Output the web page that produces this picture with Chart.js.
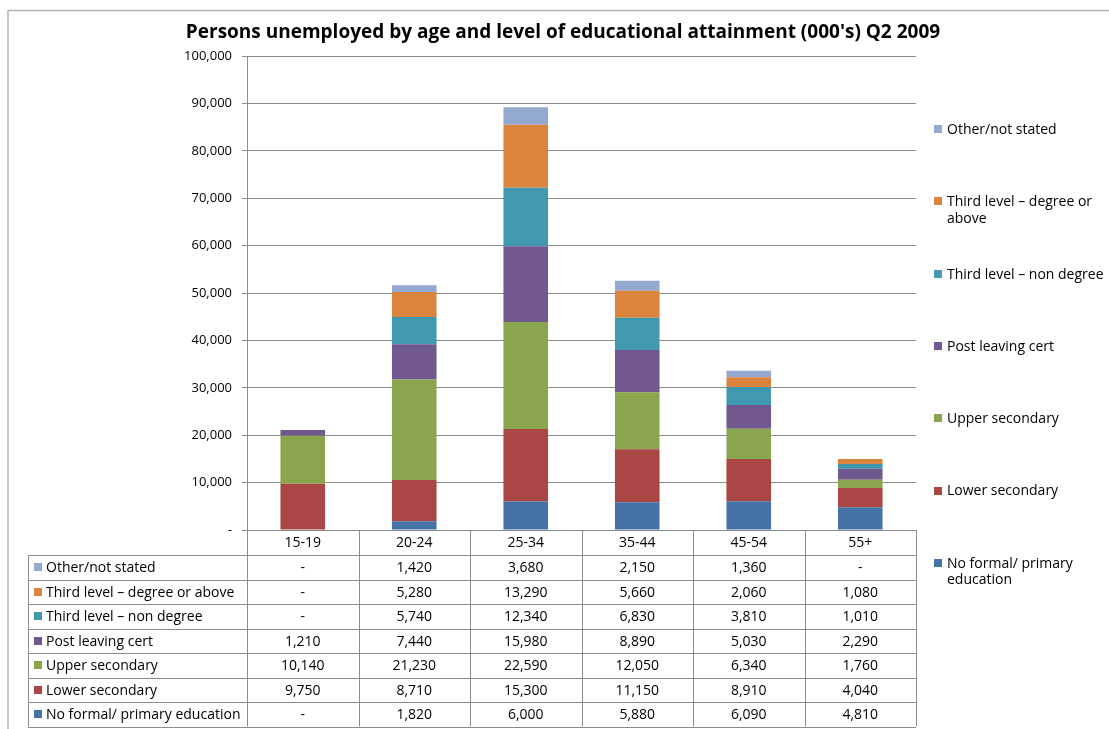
<!DOCTYPE html>
<html>
<head>
<meta charset="utf-8">
<script src="https://cdn.jsdelivr.net/npm/chart.js@4/dist/chart.umd.min.js"></script>
<style>
  html, body { margin: 0; padding: 0; background: #ffffff; }
  #wrap { position: relative; width: 1109px; height: 729px; }
</style>
</head>
<body>
<div id="wrap"><canvas id="chart"></canvas></div>
<script>
// ---- data ----
const chartTitle = "Persons unemployed by age and level of educational attainment (000's) Q2 2009";
const ageGroups = ['15-19', '20-24', '25-34', '35-44', '45-54', '55+'];
const seriesNames = [
  'No formal/ primary education',
  'Lower secondary',
  'Upper secondary',
  'Post leaving cert',
  'Third level \u2013 non degree',
  'Third level \u2013 degree or above',
  'Other/not stated'
];
const noFormalPrimary   = [null, 1820, 6000, 5880, 6090, 4810];
const lowerSecondary    = [9750, 8710, 15300, 11150, 8910, 4040];
const upperSecondary    = [10140, 21230, 22590, 12050, 6340, 1760];
const postLeavingCert   = [1210, 7440, 15980, 8890, 5030, 2290];
const thirdNonDegree    = [null, 5740, 12340, 6830, 3810, 1010];
const thirdDegreeAbove  = [null, 5280, 13290, 5660, 2060, 1080];
const otherNotStated    = [null, 1420, 3680, 2150, 1360, null];
const yMin = 0, yMax = 100000, yStep = 10000;

// ---- styling ----
const seriesColors = ['#4572A7', '#AA4643', '#89A54E', '#71588F', '#4198AF', '#DB843D', '#93A9CF'];
const FONT = "'Open Sans', Lato, sans-serif";
const GRID = '#8c8c8c';
const seriesValues = [noFormalPrimary, lowerSecondary, upperSecondary, postLeavingCert,
                      thirdNonDegree, thirdDegreeAbove, otherNotStated];

const fmt = v => (v === null || v === 0) ? '-' : v.toLocaleString('en-US');

// outer chart frame and title
const framePlugin = {
  id: 'frame',
  beforeDraw(chart) {
    const ctx = chart.ctx;
    ctx.save();
    ctx.strokeStyle = '#b4b4b4';
    ctx.lineWidth = 1.5;
    ctx.beginPath();
    ctx.moveTo(8, 729); ctx.lineTo(8, 10.5); ctx.lineTo(1109, 10.5);
    ctx.stroke();
    ctx.fillStyle = '#000';
    ctx.font = 'bold 19px ' + FONT;
    ctx.textAlign = 'center';
    ctx.textBaseline = 'middle';
    ctx.fillText(chartTitle, 563, 33);
    ctx.restore();
  }
};

// data table under the plot area
const tablePlugin = {
  id: 'dataTable',
  afterDraw(chart) {
    const ctx = chart.ctx, xs = chart.scales.x, area = chart.chartArea;
    const n = ageGroups.length;
    const bounds = [area.left];
    for (let i = 1; i < n; i++) bounds.push((xs.getPixelForValue(i - 1) + xs.getPixelForValue(i)) / 2);
    bounds.push(area.right);
    const top = area.bottom, headH = 25, rowH = 24.5, leftX = 28;
    const rows = seriesNames.length;
    const bottom = top + headH + rows * rowH;
    ctx.save();
    ctx.strokeStyle = GRID;
    ctx.lineWidth = 1;
    ctx.beginPath();
    // horizontal lines
    for (let r = 0; r <= rows; r++) {
      const y = Math.round(top + headH + r * rowH) + 0.5;
      ctx.moveTo(leftX, y); ctx.lineTo(area.right, y);
    }
    // vertical lines
    bounds.forEach(x => { const px = Math.round(x) + 0.5; ctx.moveTo(px, top); ctx.lineTo(px, bottom); });
    ctx.moveTo(leftX + 0.5, top + headH); ctx.lineTo(leftX + 0.5, bottom);
    ctx.stroke();

    ctx.fillStyle = '#000';
    ctx.font = '14px ' + FONT;
    ctx.textBaseline = 'middle';
    ctx.textAlign = 'center';
    ageGroups.forEach((g, i) => ctx.fillText(g, xs.getPixelForValue(i), top + headH / 2 + 1));
    for (let r = 0; r < rows; r++) {
      const s = rows - 1 - r;
      const cy = top + headH + r * rowH + rowH / 2;
      ctx.fillStyle = seriesColors[s];
      ctx.fillRect(34, Math.round(cy - 4), 8, 8);
      ctx.fillStyle = '#000';
      ctx.textAlign = 'left';
      ctx.fillText(seriesNames[s], 46, cy + 1);
      ctx.textAlign = 'center';
      seriesValues[s].forEach((v, i) => ctx.fillText(fmt(v), xs.getPixelForValue(i), cy + 1));
    }
    ctx.restore();
  }
};

// legend on the right, wrapped to a fixed width
const sideLegendPlugin = {
  id: 'sideLegend',
  afterDraw(chart) {
    const ctx = chart.ctx;
    const x0 = 934, tx = 947, maxW = 170, y0 = 129, gap = 72.3, lineH = 16.5;
    ctx.save();
    ctx.font = '14px ' + FONT;
    ctx.textBaseline = 'middle';
    ctx.textAlign = 'left';
    for (let k = 0; k < seriesNames.length; k++) {
      const s = seriesNames.length - 1 - k;
      const cy = y0 + k * gap;
      const words = seriesNames[s].split(' ');
      const lines = [];
      let cur = '';
      words.forEach(w => {
        const t = cur ? cur + ' ' + w : w;
        if (cur && ctx.measureText(t).width > maxW) { lines.push(cur); cur = w; } else cur = t;
      });
      lines.push(cur);
      ctx.fillStyle = seriesColors[s];
      ctx.fillRect(x0, Math.round(cy - 4), 8, 8);
      ctx.fillStyle = '#000';
      lines.forEach((l, j) => ctx.fillText(l, tx, cy + 1 + j * lineH));
    }
    ctx.restore();
  }
};

new Chart(document.getElementById('chart'), {
  type: 'bar',
  data: {
    labels: ageGroups,
    datasets: seriesNames.map((name, i) => ({
      label: name,
      data: seriesValues[i],
      backgroundColor: seriesColors[i],
      borderWidth: 0,
      barPercentage: 0.4,
      categoryPercentage: 1.0
    }))
  },
  options: {
    responsive: true,
    maintainAspectRatio: false,
    animation: false,
    layout: { padding: { left: 8, top: 56, right: 193, bottom: 199 } },
    plugins: {
      legend: { display: false },
      title: { display: false },
      tooltip: { enabled: false }
    },
    scales: {
      x: {
        stacked: true,
        grid: { display: false },
        border: { display: false },
        ticks: { display: false },
        afterFit(scale) { scale.height = 0; }
      },
      y: {
        stacked: true,
        min: yMin,
        max: yMax,
        afterFit(scale) { scale.width = 239; },
        ticks: {
          stepSize: yStep,
          padding: 10,
          color: '#000',
          font: { family: FONT, size: 13 },
          callback: v => fmt(v)
        },
        grid: { color: GRID, lineWidth: 1, tickLength: 5 },
        border: { color: GRID, width: 1 }
      }
    }
  },
  plugins: [framePlugin, tablePlugin, sideLegendPlugin]
});
</script>
</body>
</html>
